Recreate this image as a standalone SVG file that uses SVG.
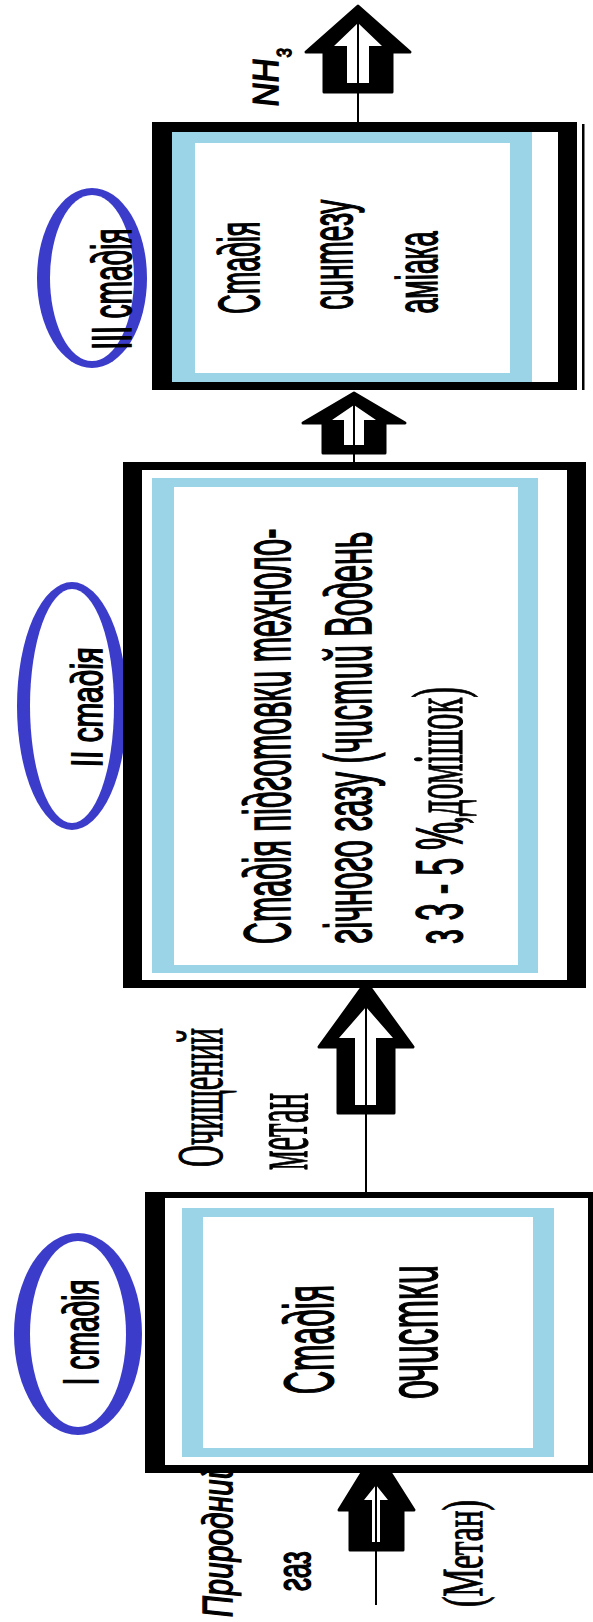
<svg xmlns="http://www.w3.org/2000/svg" width="593" height="1622" viewBox="0 0 593 1622">
<style>
.blk{fill:#000}
.wht{fill:#fff}
.blu{fill:#9ad4e6}
.ell{fill:#3c3ccb}
.ln{stroke:#000;stroke-width:2;fill:none}
.arr{fill:#000;stroke:#000;stroke-width:3;stroke-linejoin:round}
.t{font-family:'Liberation Sans',Arial,sans-serif;font-style:italic;fill:#000;stroke:#000;stroke-width:0.8}
.s{font-family:'Liberation Serif','Times New Roman',serif;fill:#000;stroke:#000;stroke-width:0.6}
</style>
<rect x="0" y="0" width="593" height="1622" fill="#fff"/>

<g id="label-stage3">
<ellipse class="ell" cx="92" cy="278" rx="55" ry="90"/>
<ellipse class="wht" cx="92" cy="278" rx="42" ry="83"/>
<text class="t" font-size="28" textLength="121" lengthAdjust="spacingAndGlyphs" transform="translate(131,348) rotate(-90) scale(1,2) skewX(12)">III стадія</text>
</g>
<g id="label-stage2">
<ellipse class="ell" cx="72" cy="706" rx="55" ry="124"/>
<ellipse class="wht" cx="72" cy="706" rx="42" ry="117"/>
<text class="t" font-size="22" textLength="120" lengthAdjust="spacingAndGlyphs" transform="translate(102,766) rotate(-90) scale(1,2) skewX(12)">II стадія</text>
</g>
<g id="label-stage1">
<ellipse class="ell" cx="78" cy="1334" rx="64" ry="101"/>
<ellipse class="wht" cx="78" cy="1334" rx="48" ry="93"/>
<text class="t" font-size="25" textLength="106" lengthAdjust="spacingAndGlyphs" transform="translate(98,1384) rotate(-90) scale(1,2) skewX(12)">I стадія</text>
</g>

<g id="connectors">
<polygon class="arr" points="358,6 410,52 392,52 392,92 324,92 324,52 306,52"/>
<polygon class="wht" points="358,23 382,46 369,46 369,83 347,83 347,46 334,46"/>
<line class="ln" x1="358" y1="23" x2="358" y2="124"/>

<polygon class="arr" points="354,393 405,423 385,423 385,453 323,453 323,423 303,423"/>
<polygon class="wht" points="354,405 376,420 364,420 364,445 344,445 344,420 332,420"/>
<line class="ln" x1="354" y1="405" x2="354" y2="464"/>

<polygon class="arr" points="366,982 413,1047 394,1047 394,1113 338,1113 338,1047 319,1047"/>
<polygon class="wht" points="366,1007 393,1038 376,1038 376,1105 355,1105 355,1038 339,1038"/>
<line class="ln" x1="366" y1="1007" x2="366" y2="1194"/>

<polygon class="arr" points="376,1450 414,1510 403,1510 403,1550 350,1550 350,1510 339,1510"/>
<polygon class="wht" points="376,1485 388,1500 380,1500 380,1542 372,1542 372,1500 364,1500"/>
<line class="ln" x1="376" y1="1485" x2="376" y2="1605"/>
</g>

<g id="flow-labels">
<text class="t" font-size="18" textLength="48" lengthAdjust="spacingAndGlyphs" transform="translate(278,106) rotate(-90) scale(1,2) skewX(8)">NH</text>
<text class="t" font-size="10" textLength="9" lengthAdjust="spacingAndGlyphs" transform="translate(291,57) rotate(-90) scale(1,2) skewX(8)">3</text>
<text class="s" font-size="33" textLength="139" lengthAdjust="spacingAndGlyphs" transform="translate(222,1167) rotate(-90) scale(1,2)">Очищений</text>
<text class="s" font-size="40" textLength="77" lengthAdjust="spacingAndGlyphs" transform="translate(307,1170) rotate(-90) scale(1,2)">метан</text>
<text class="t" font-size="21" textLength="155" lengthAdjust="spacingAndGlyphs" transform="translate(232,1617) rotate(-90) scale(1,2) skewX(4)">Природний</text>
<text class="t" font-size="24" textLength="40" lengthAdjust="spacingAndGlyphs" transform="translate(310,1590) rotate(-90) scale(1,2) skewX(12)">газ</text>
<text class="s" font-size="28" textLength="107" lengthAdjust="spacingAndGlyphs" transform="translate(482,1607) rotate(-90) scale(1,2)">(Метан)</text>
</g>

<g id="stage3">
<rect class="blk" x="152" y="122" width="425" height="268"/>
<rect class="wht" x="172" y="132" width="386" height="250"/>
<rect class="blu" x="172" y="132" width="360" height="250"/>
<rect class="wht" x="195" y="143" width="315" height="230"/>
<rect class="blk" x="582" y="124" width="2.5" height="266"/>
<text class="t" font-size="29" textLength="92" lengthAdjust="spacingAndGlyphs" transform="translate(259,312) rotate(-90) scale(1,2) skewX(12)">Стадія</text>
<text class="t" font-size="29" textLength="110" lengthAdjust="spacingAndGlyphs" transform="translate(352,308) rotate(-90) scale(1,2) skewX(12)">синтезу</text>
<text class="t" font-size="29" textLength="82" lengthAdjust="spacingAndGlyphs" transform="translate(437,312) rotate(-90) scale(1,2) skewX(12)">аміака</text>
</g>

<g id="stage2">
<rect class="blk" x="123" y="462" width="463" height="526"/>
<rect class="wht" x="142" y="470" width="425" height="510"/>
<rect class="blu" x="152" y="478" width="386" height="495"/>
<rect class="wht" x="174" y="487" width="344" height="478"/>
<text class="t" font-size="33" textLength="415" lengthAdjust="spacingAndGlyphs" transform="translate(290,942) rotate(-90) scale(1,2) skewX(12)">Стадія підготовки техноло-</text>
<text class="t" font-size="33" textLength="412" lengthAdjust="spacingAndGlyphs" transform="translate(371,942) rotate(-90) scale(1,2) skewX(12)">гічного газу (чистий Водень</text>
<text class="t" font-size="33" textLength="122" lengthAdjust="spacingAndGlyphs" transform="translate(462,942) rotate(-90) scale(1,2) skewX(12)">з 3 - 5 %</text>
<text class="s" font-size="36" textLength="137" lengthAdjust="spacingAndGlyphs" transform="translate(462,824) rotate(-90) scale(1,2)">,домішок)</text>
</g>

<g id="stage1">
<rect class="blk" x="145" y="1192" width="460" height="281"/>
<rect class="wht" x="165" y="1198" width="423" height="267"/>
<rect class="blu" x="182" y="1208" width="372" height="249"/>
<rect class="wht" x="203" y="1217" width="330" height="231"/>
<text class="t" font-size="35" textLength="109" lengthAdjust="spacingAndGlyphs" transform="translate(333,1392) rotate(-90) scale(1,2) skewX(12)">Стадія</text>
<text class="t" font-size="35" textLength="134" lengthAdjust="spacingAndGlyphs" transform="translate(437,1397) rotate(-90) scale(1,2) skewX(12)">очистки</text>
</g>
</svg>
